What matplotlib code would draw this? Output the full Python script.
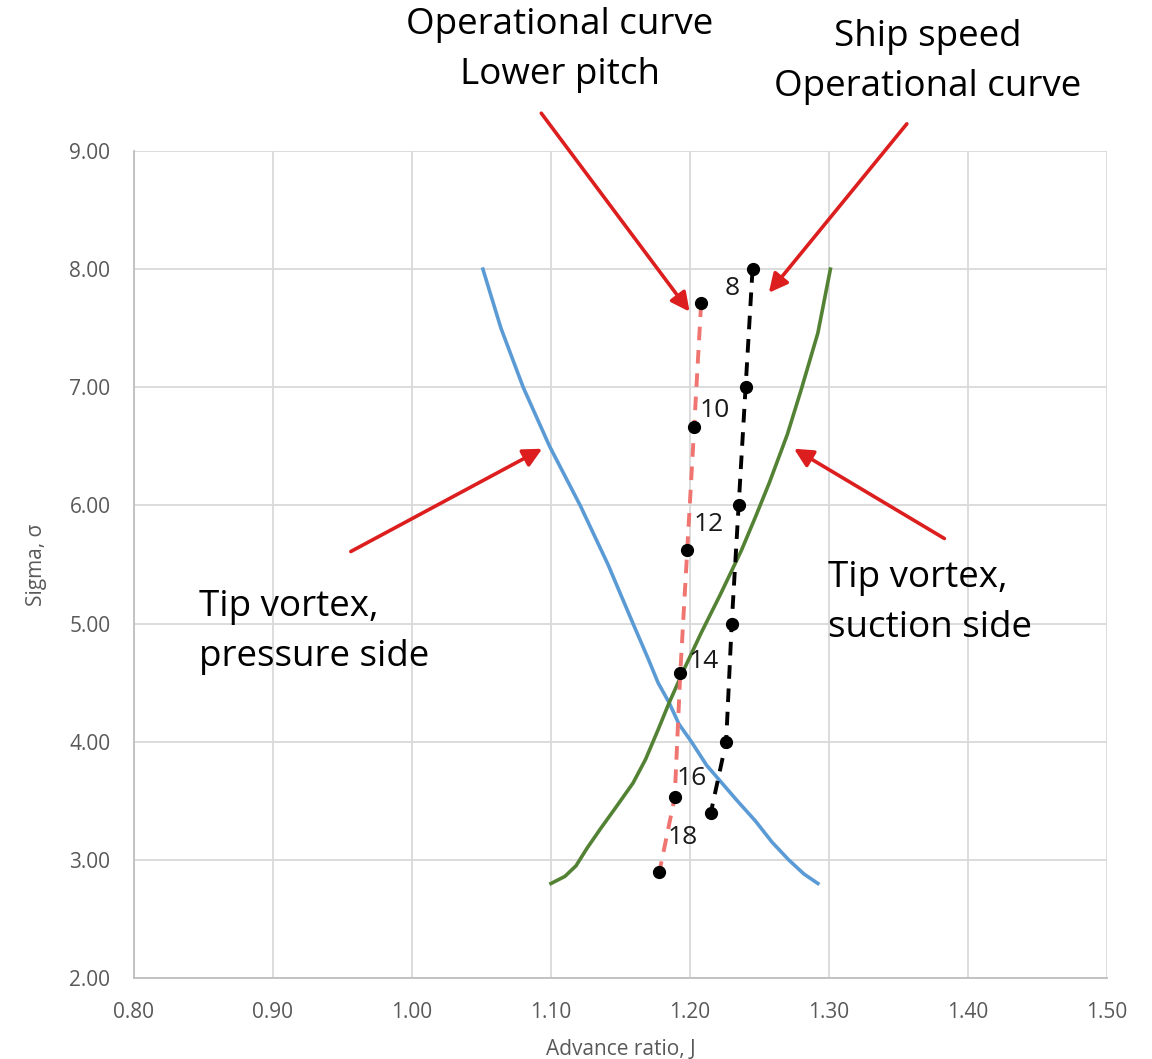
import matplotlib
matplotlib.use("Agg")
import matplotlib.pyplot as plt

plt.rcParams['font.family'] = ['Open Sans', 'DejaVu Sans']

# tip vortex, pressure side (blue)
press_j = [1.051, 1.064, 1.080, 1.099, 1.121, 1.141, 1.159, 1.170, 1.177,
           1.185, 1.192, 1.201, 1.212, 1.223, 1.234, 1.247, 1.259, 1.271,
           1.282, 1.292]
press_s = [8.00, 7.50, 7.00, 6.50, 6.00, 5.50, 5.00, 4.70, 4.50,
           4.33, 4.15, 4.00, 3.80, 3.65, 3.50, 3.33, 3.15, 3.00,
           2.88, 2.80]

# tip vortex, suction side (green)
suct_j = [1.100, 1.110, 1.118, 1.126, 1.136, 1.147, 1.159, 1.168, 1.177,
          1.185, 1.196, 1.208, 1.222, 1.237, 1.247, 1.257, 1.270, 1.280,
          1.292, 1.301]
suct_s = [2.80, 2.86, 2.95, 3.10, 3.27, 3.45, 3.65, 3.85, 4.10,
          4.33, 4.62, 4.92, 5.25, 5.62, 5.90, 6.19, 6.60, 6.98,
          7.46, 8.00]

# ship speed operational curve (black)
ship_j = [1.245, 1.240, 1.235, 1.230, 1.226, 1.215]
ship_s = [8.00, 7.00, 6.00, 5.00, 4.00, 3.40]

# operational curve, lower pitch (pink)
low_j = [1.208, 1.203, 1.198, 1.193, 1.189, 1.178]
low_s = [7.71, 6.66, 5.62, 4.58, 3.53, 2.90]

speed_labels = ['8', '10', '12', '14', '16', '18']
label_j = [1.2300, 1.2178, 1.2134, 1.2098, 1.2012, 1.1947]
label_s = [7.84, 6.80, 5.84, 4.68, 3.69, 3.19]

W, H = 1152, 1059
fig = plt.figure(figsize=(W / 100, H / 100), dpi=100)
ax = fig.add_axes([134 / W, 1 - 978 / H, (1107 - 134) / W, (978 - 151) / H])

ax.plot(press_j, press_s, color='#5b9bd5', lw=2.6, solid_joinstyle='round')
ax.plot(suct_j, suct_s, color='#548235', lw=2.6, solid_joinstyle='round')
ax.plot(low_j, low_s, color='#f07470', lw=2.8, ls=(0, (3.5, 2.5)))
ax.plot(low_j, low_s, 'o', color='black', ms=8.5)
ax.plot(ship_j, ship_s, color='black', lw=2.8, ls=(0, (3.5, 2.5)),
        marker='o', ms=8.5)

for t, x, y in zip(speed_labels, label_j, label_s):
    ax.text(x, y, t, fontsize=19, ha='center', va='center', color='#1a1a1a')

ax.set_xlim(0.8, 1.5)
ax.set_ylim(2.0, 9.0)
ax.set_xticks([0.8 + 0.1 * i for i in range(8)])
ax.set_yticks(range(2, 10))
ax.set_xticklabels(['%.2f' % (0.8 + 0.1 * i) for i in range(8)])
ax.set_yticklabels(['%.2f' % v for v in range(2, 10)])
ax.grid(True, color='#d9d9d9', lw=1.3)
ax.set_axisbelow(True)
for s in ['top', 'right']:
    ax.spines[s].set_visible(False)
for s in ['left', 'bottom']:
    ax.spines[s].set_color('#bfbfbf')
    ax.spines[s].set_linewidth(1.3)
ax.tick_params(length=0, labelsize=15, labelcolor='#595959', pad=17)
ax.set_xlabel('Advance ratio, J', fontsize=15, color='#595959', labelpad=12)
ax.set_ylabel('Sigma, σ', fontsize=15, color='#595959', labelpad=16)

# red arrows (tail -> head)
arrows = [((1.093, 9.32), (1.1997, 7.64)),
          ((1.356, 9.23), (1.2567, 7.80)),
          ((0.956, 5.61), (1.0937, 6.48)),
          ((1.383, 5.72), (1.2748, 6.48))]
for tail, head in arrows:
    ax.annotate('', xy=head, xytext=tail, annotation_clip=False,
                arrowprops=dict(arrowstyle='-|>', color='#dc1e1e', lw=2.6,
                                mutation_scale=28, shrinkA=0, shrinkB=0))

big = dict(fontsize=26.5, color='black', linespacing=1.5)
fig.text(560 / W, 1 - 50 / H, 'Operational curve\nLower pitch',
         ha='center', va='center', **big)
fig.text(928 / W, 1 - 62 / H, 'Ship speed\nOperational curve',
         ha='center', va='center', **big)
fig.text(199 / W, 1 - 632 / H, 'Tip vortex,\npressure side',
         ha='left', va='center', **big)
fig.text(828 / W, 1 - 603 / H, 'Tip vortex,\nsuction side',
         ha='left', va='center', **big)

fig.savefig('out.png', dpi=100)
